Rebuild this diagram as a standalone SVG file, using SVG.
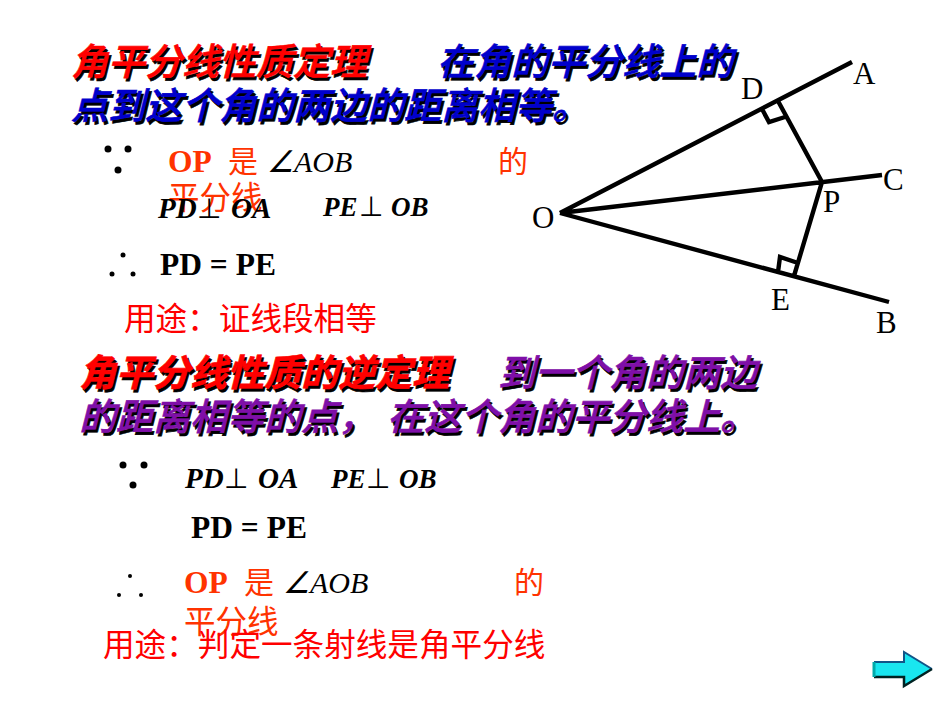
<svg xmlns="http://www.w3.org/2000/svg" width="950" height="713" viewBox="0 0 950 713">
<style>
.t{font-family:"Noto Sans CJK SC",sans-serif;font-size:37px;font-style:italic;font-weight:500;stroke-width:.6px}
.h{font-weight:700}
.s{fill:#000;stroke:#000}
.rd{fill:#f00;stroke:#f00}
.bl{fill:#00c;stroke:#00c}
.pu{fill:#7f0fa8;stroke:#7f0fa8}
.m{font-family:"Liberation Serif",serif;font-size:29px;font-weight:bold;font-style:italic;fill:#000}
.m2{font-family:"Liberation Serif",serif;font-size:27px;font-weight:bold;font-style:italic;fill:#000}
.p{font-family:"DejaVu Sans",sans-serif;font-size:28px;fill:#000}
.b{font-family:"Liberation Serif",serif;font-size:31.5px;font-weight:bold;fill:#000}
.o{font-family:"Noto Sans CJK SC",sans-serif;font-size:30px;fill:#ff3300}
.o3{font-family:"Noto Sans CJK SC",sans-serif;font-size:31.5px;fill:#ff3300}
.ob{font-family:"Liberation Serif",serif;font-size:31.5px;font-weight:bold;fill:#ff3300}
.a{font-family:"Liberation Serif",serif;font-size:30px;font-style:italic;fill:#000}
.red{font-family:"Noto Sans CJK SC",sans-serif;font-size:31.6px;fill:#f00}
.l{font-family:"Liberation Serif",serif;font-size:31px;fill:#000}
.g{stroke:#000;stroke-width:4.4;fill:none}
</style>
<g id="title1">
<text class="t s" x="73" y="78">角平分线性质定理</text><text class="t rd" x="71" y="75">角平分线性质定理</text>
<text class="t s" x="439" y="78">在角的平分线上的</text><text class="t bl" x="437" y="75">在角的平分线上的</text>
<text class="t s" x="73" y="122">点到这个角的两边的距离相等。</text><text class="t bl" x="71" y="119">点到这个角的两边的距离相等。</text>
</g>
<g id="proof1">
<circle cx="108" cy="149" r="3.5"/><circle cx="128" cy="149" r="3.5"/><circle cx="118" cy="170" r="3.5"/>
<text class="ob" x="168" y="172">OP</text><text class="o" x="228" y="172">是</text>
<text class="a" x="267" y="172">∠AOB</text>
<text class="o" x="498" y="172">的</text>
<text class="o3" x="168" y="209">平分线</text>
<text class="m" x="158" y="218">PD</text><text class="p" x="197" y="218">⊥</text><text class="m" x="231" y="218">OA</text>
<text class="m2" x="323" y="216">PE</text><text class="p" x="359" y="216">⊥</text><text class="m2" x="391" y="216">OB</text>
<circle cx="123" cy="255" r="2.5"/><circle cx="112" cy="274" r="2.5"/><circle cx="133" cy="274" r="2.5"/>
<text class="b" x="160" y="275">PD = PE</text>
<text class="red" x="124" y="330">用途：证线段相等</text>
</g>
<g id="figure">
<path class="g" d="M560 213L852 62M560 213L882 175M560 213L889 302M778 101L822 182L794 276M762 109L769 122L785 117M778 272L780 257L798 263"/>
<text class="l" x="741" y="99">D</text><text class="l" x="853" y="84">A</text><text class="l" x="883" y="190">C</text><text class="l" x="532" y="228">O</text><text class="l" x="823" y="212">P</text><text class="l" x="771" y="310">E</text><text class="l" x="876" y="333">B</text>
</g>
<g id="title2">
<text class="t h s" x="81" y="389">角平分线性质的逆定理</text><text class="t h rd" x="79" y="386">角平分线性质的逆定理</text>
<text class="t s" x="500" y="389">到一个角的两边</text><text class="t pu" x="498" y="386">到一个角的两边</text>
<text class="t s" x="81" y="433">的距离相等的点，</text><text class="t pu" x="79" y="430">的距离相等的点，</text>
<text class="t s" x="389" y="433">在这个角的平分线上。</text><text class="t pu" x="387" y="430">在这个角的平分线上。</text>
</g>
<g id="proof2">
<circle cx="123" cy="465" r="3.5"/><circle cx="144" cy="465" r="3.5"/><circle cx="133" cy="485" r="3.5"/>
<text class="m" x="185" y="488">PD</text><text class="p" x="224" y="488">⊥</text><text class="m" x="258" y="488">OA</text>
<text class="m2" x="331" y="488">PE</text><text class="p" x="366" y="488">⊥</text><text class="m2" x="399" y="488">OB</text>
<text class="b" x="191" y="538">PD = PE</text>
<circle cx="130" cy="576" r="2"/><circle cx="119" cy="595" r="2"/><circle cx="141" cy="595" r="2"/>
<text class="ob" x="184" y="593">OP</text><text class="o" x="244" y="593">是</text>
<text class="a" x="283" y="593">∠AOB</text>
<text class="o" x="514" y="593">的</text>
<text class="o3" x="184" y="633">平分线</text>
<text class="red" x="103" y="656">用途：判定一条射线是角平分线</text>
</g>
<g id="next">
<path d="M874 662H904V652L932 669L904 686V677H874Z" fill="#19e6f0"/>
<path d="M874 662H904V652L932 669" fill="none" stroke="#158" stroke-width="2"/>
<path d="M874 677H904V686L932 669" fill="none" stroke="#022" stroke-width="2.5"/>
<path d="M874 662V677" stroke="#0aa" stroke-width="3"/>
</g>
</svg>
